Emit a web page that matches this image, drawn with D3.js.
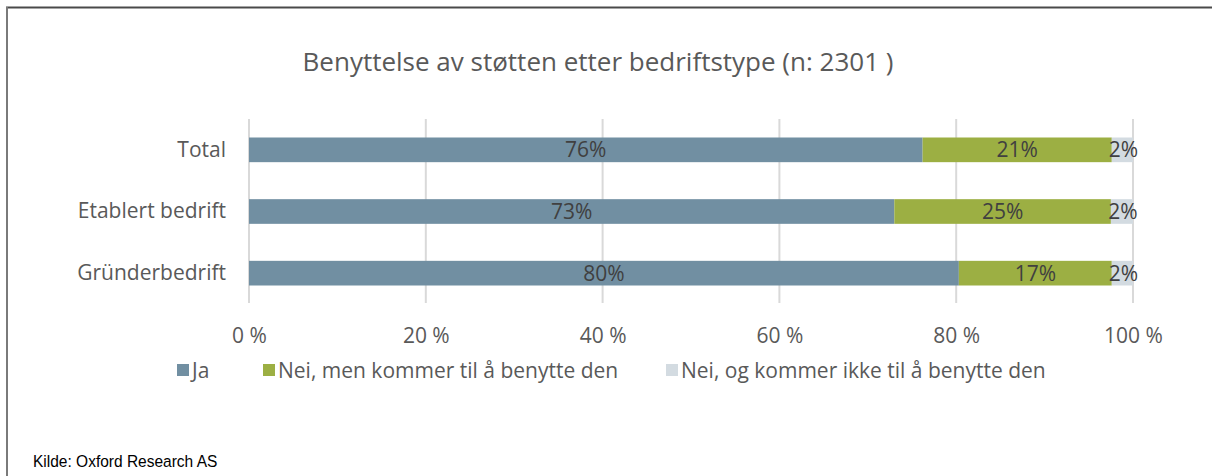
<!DOCTYPE html>
<html>
<head>
<meta charset="utf-8">
<script src="https://cdn.jsdelivr.net/npm/d3@7"></script>
<style>
  body { margin: 0; background: #fff; }
  svg { display: block; }
</style>
</head>
<body>
<div id="chart"></div>
<script>
// Data
const categories = ["Total", "Etablert bedrift", "Gründerbedrift"];
const seriesNames = ["Ja", "Nei, men kommer til å benytte den", "Nei, og kommer ikke til å benytte den"];
const ja = [76.2, 73.0, 80.3];
const neiMen = [21.4, 24.5, 17.3];
const neiOg = [2.4, 2.5, 2.4];
const ticks = [0, 20, 40, 60, 80, 100];
const labels = [["76%", "73%", "80%"], ["21%", "25%", "17%"], ["2%", "2%", "2%"]];

const width = 1212;
const height = 476;
const marginLeft = 249;
const marginRight = 79;
const colors = ["#718fa2", "#9caf43", "#d3dbe1"];
const font = "'Open Sans', sans-serif";
const labelSize = "21px";

const svg = d3.select("#chart").append("svg")
  .attr("width", width)
  .attr("height", height)
  .style("font-family", font);

// outer frame (top + left only)
svg.append("line").attr("x1", 6).attr("x2", width).attr("y1", 7.5).attr("y2", 7.5)
  .attr("stroke", "#4a4a4a").attr("stroke-width", 2);
svg.append("line").attr("x1", 7).attr("x2", 7).attr("y1", 7).attr("y2", height)
  .attr("stroke", "#7a7a7a").attr("stroke-width", 2);

// title
svg.append("text")
  .attr("x", 598).attr("y", 71)
  .attr("text-anchor", "middle")
  .attr("fill", "#595959")
  .style("font-size", "26px")
  .text("Benyttelse av støtten etter bedriftstype (n: 2301 )");

const x = d3.scaleLinear().domain([0, 100]).range([marginLeft, width - marginRight]);
const y = d3.scaleBand().domain(categories).range([119, 304]).paddingInner(0.6).paddingOuter(0.3);

// gridlines
svg.append("g")
  .selectAll("line")
  .data(ticks)
  .join("line")
  .attr("x1", d => x(d)).attr("x2", d => x(d))
  .attr("y1", 119).attr("y2", 303)
  .attr("stroke", "#d9d9d9").attr("stroke-width", 2);

// stacked series
const rows = categories.map((c, i) => ({ cat: c, s0: ja[i], s1: neiMen[i], s2: neiOg[i] }));
const stack = d3.stack().keys(["s0", "s1", "s2"])(rows);

const layer = svg.append("g")
  .selectAll("g")
  .data(stack)
  .join("g")
  .attr("fill", (d, i) => colors[i]);

layer.selectAll("rect")
  .data(d => d)
  .join("rect")
  .attr("x", d => x(d[0]))
  .attr("y", d => y(d.data.cat))
  .attr("width", d => x(d[1]) - x(d[0]))
  .attr("height", y.bandwidth());

// value labels
svg.append("g")
  .selectAll("g")
  .data(stack)
  .join("g")
  .selectAll("text")
  .data((d, si) => d.map((v, ci) => ({ v, si, ci })))
  .join("text")
  .attr("x", d => (x(d.v[0]) + x(d.v[1])) / 2 + (d.si === 2 ? 1 : 0))
  .attr("y", d => y(d.v.data.cat) + y.bandwidth() / 2)
  .attr("dy", "0.36em")
  .attr("text-anchor", "middle")
  .attr("fill", "#404040")
  .style("font-size", labelSize)
  .text(d => labels[d.si][d.ci]);

// category axis
svg.append("g")
  .attr("transform", `translate(${marginLeft},0)`)
  .call(d3.axisLeft(y).tickSize(0).tickPadding(23))
  .call(g => g.select(".domain").remove())
  .selectAll("text")
  .attr("fill", "#595959")
  .style("font-family", font)
  .style("font-size", labelSize);

// value axis
svg.append("g")
  .attr("transform", "translate(0,325)")
  .call(d3.axisBottom(x).tickValues(ticks).tickSize(0).tickFormat(d => d + " %"))
  .call(g => g.select(".domain").remove())
  .selectAll("text")
  .attr("fill", "#595959")
  .style("font-family", font)
  .style("font-size", labelSize);

// legend
const legendX = [177, 263, 666];
const legend = svg.append("g")
  .selectAll("g")
  .data(seriesNames)
  .join("g")
  .attr("transform", (d, i) => `translate(${legendX[i]},364)`);
legend.append("rect").attr("width", 12).attr("height", 12).attr("fill", (d, i) => colors[i]);
legend.append("text")
  .attr("x", 15).attr("y", 6).attr("dy", "0.36em")
  .attr("fill", "#595959")
  .style("font-size", labelSize)
  .text(d => d);

// source
svg.append("text")
  .attr("transform", "translate(33,467) scale(0.94,1)")
  .attr("fill", "#000")
  .style("font-family", "'Liberation Sans', Arial, sans-serif")
  .style("font-size", "16.5px")
  .text("Kilde: Oxford Research AS");
</script>
</body>
</html>
